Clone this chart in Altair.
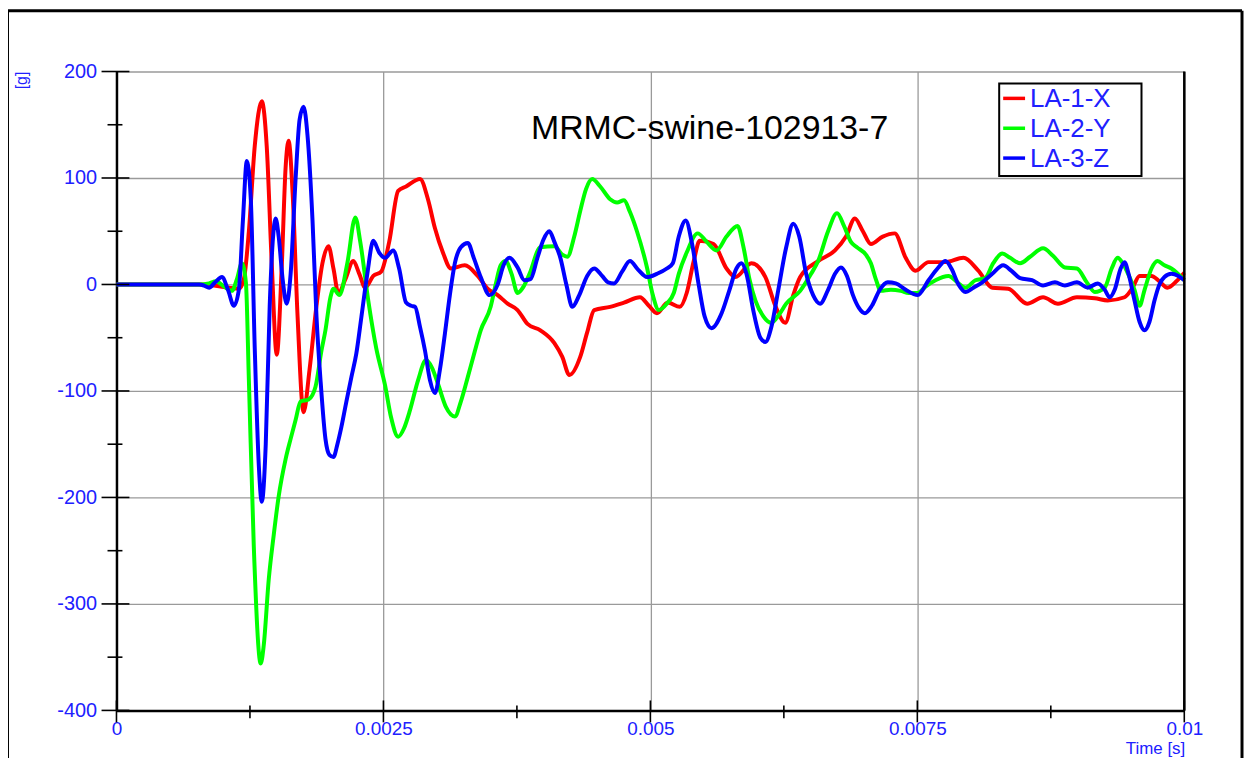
import altair as alt
import pandas as pd

SERIES = ["LA-1-X", "LA-2-Y", "LA-3-Z"]
COLORS = ["#ff0000", "#00ff00", "#0000ff"]
TITLE = "MRMC-swine-102913-7"

# (time in ms, acceleration in g)
RED = [(0, 0), (0.774, 0), (0.913, -1), (1.053, -3), (1.146, -4), (1.193, 5), (1.240, 50), (1.295, 130),
       (1.361, 172), (1.407, 130), (1.454, 20), (1.501, -66), (1.547, 15), (1.584, 110), (1.612, 135),
       (1.650, 85), (1.696, -30), (1.752, -120), (1.808, -80), (1.873, -20), (1.929, 20), (1.985, 36),
       (2.032, 15), (2.078, -8), (2.144, 5), (2.218, 22), (2.274, 10), (2.330, -3), (2.405, 8), (2.479, 12),
       (2.554, 40), (2.638, 88), (2.712, 92), (2.843, 99), (2.917, 80), (2.982, 53), (3.057, 30), (3.132, 15),
       (3.262, 18), (3.383, 8), (3.476, -4), (3.570, -10), (3.663, -18), (3.756, -24), (3.849, -37),
       (3.970, -43), (4.101, -55), (4.175, -68), (4.241, -85), (4.343, -68), (4.408, -45), (4.474, -24),
       (4.623, -21), (4.753, -17), (4.902, -12), (4.986, -20), (5.061, -27), (5.163, -17), (5.275, -21),
       (5.340, -8), (5.406, 22), (5.462, 41), (5.592, 38), (5.713, 15), (5.797, 7), (5.946, 20), (6.077, 7),
       (6.170, -20), (6.263, -36), (6.338, -10), (6.403, 7), (6.571, 22), (6.729, 32), (6.832, 45),
       (6.915, 62), (6.990, 50), (7.065, 38), (7.176, 45), (7.288, 48), (7.391, 25), (7.484, 13), (7.605, 21),
       (7.764, 21), (7.931, 25), (8.071, 13), (8.202, -3), (8.351, -4), (8.528, -18), (8.677, -12),
       (8.817, -18), (8.994, -12), (9.162, -13), (9.283, -15), (9.441, -12), (9.516, -3), (9.581, 8),
       (9.693, 8), (9.767, 3), (9.842, -3), (9.926, 3), (10.0, 11)]

GREEN = [(0, 0), (0.774, 0), (0.867, 1), (0.932, 3), (1.007, -2), (1.081, -6), (1.128, 5), (1.174, 20),
         (1.212, 2), (1.240, -90), (1.286, -246), (1.351, -356), (1.379, -339), (1.426, -277), (1.473, -235),
         (1.519, -199), (1.584, -164), (1.631, -145), (1.678, -127), (1.724, -110), (1.799, -108),
         (1.864, -96), (1.920, -62), (1.957, -43), (2.004, -12), (2.032, -4), (2.088, -10), (2.162, 20),
         (2.237, 63), (2.283, 40), (2.358, -15), (2.433, -60), (2.516, -95), (2.572, -125), (2.638, -143),
         (2.693, -135), (2.749, -118), (2.824, -90), (2.899, -71), (2.954, -78), (3.010, -93), (3.085, -115),
         (3.169, -124), (3.225, -110), (3.290, -87), (3.355, -63), (3.411, -43), (3.504, -21), (3.551, 0),
         (3.598, 18), (3.644, 22), (3.700, 10), (3.756, -8), (3.812, -2), (3.868, 10), (3.970, 35),
         (4.101, 36), (4.175, 28), (4.222, 26), (4.287, 45), (4.343, 69), (4.399, 90), (4.455, 99),
         (4.530, 92), (4.623, 80), (4.688, 77), (4.753, 79), (4.809, 68), (4.874, 50), (4.968, 16),
         (5.023, -10), (5.079, -24), (5.154, -18), (5.219, -8), (5.266, 10), (5.340, 30), (5.443, 48),
         (5.527, 40), (5.620, 32), (5.713, 45), (5.816, 55), (5.872, 35), (5.928, 5), (5.983, -15),
         (6.058, -30), (6.133, -36), (6.207, -28), (6.272, -18), (6.403, -6), (6.505, 10), (6.571, 22),
         (6.664, 50), (6.748, 67), (6.813, 55), (6.878, 40), (6.934, 35), (7.018, 28), (7.065, 20),
         (7.111, 5), (7.158, -6), (7.251, -5), (7.344, -6), (7.419, -8), (7.503, -8), (7.577, -2),
         (7.670, 4), (7.792, 8), (7.875, 2), (7.950, -3), (8.043, 4), (8.136, 6), (8.211, 20), (8.295, 29),
         (8.369, 25), (8.463, 20), (8.556, 26), (8.677, 34), (8.770, 27), (8.882, 16), (8.994, 15),
         (9.087, 2), (9.162, -7), (9.255, -3), (9.320, 15), (9.376, 25), (9.423, 20), (9.460, 13),
         (9.534, -5), (9.581, -20), (9.628, -5), (9.693, 15), (9.749, 22), (9.814, 18), (9.879, 15),
         (10.0, 4)]

BLUE = [(0, 0), (0.774, 0), (0.820, -1), (0.867, -3), (0.923, 2), (0.988, 7), (1.044, -5), (1.100, -20),
        (1.146, -5), (1.184, 60), (1.221, 116), (1.258, 80), (1.295, -60), (1.333, -170), (1.361, -204),
        (1.398, -150), (1.435, -20), (1.463, 40), (1.491, 62), (1.519, 45), (1.556, 5), (1.594, -18),
        (1.631, 10), (1.678, 100), (1.715, 155), (1.752, 167), (1.789, 140), (1.836, 60), (1.873, -30),
        (1.911, -90), (1.957, -145), (1.994, -160), (2.032, -162), (2.069, -150), (2.106, -134),
        (2.153, -110), (2.200, -87), (2.246, -65), (2.293, -31), (2.349, 10), (2.405, 41), (2.460, 30),
        (2.516, 25), (2.591, 32), (2.647, 15), (2.712, -17), (2.759, -20), (2.796, -21), (2.843, -40),
        (2.889, -62), (2.936, -90), (2.982, -102), (3.029, -80), (3.076, -46), (3.122, -10), (3.169, 20),
        (3.225, 35), (3.290, 39), (3.346, 25), (3.411, 7), (3.495, -10), (3.570, 0), (3.625, 18),
        (3.681, 25), (3.756, 16), (3.821, 4), (3.877, 5), (3.942, 25), (3.998, 42), (4.054, 50),
        (4.101, 40), (4.157, 25), (4.213, 0), (4.269, -21), (4.334, -10), (4.408, 8), (4.474, 15),
        (4.548, 8), (4.604, 2), (4.660, 1), (4.735, 12), (4.809, 22), (4.884, 14), (4.968, 7), (5.061, 10),
        (5.154, 15), (5.210, 20), (5.266, 45), (5.331, 60), (5.387, 40), (5.452, 0), (5.508, -30),
        (5.573, -41), (5.667, -27), (5.741, -5), (5.806, 15), (5.853, 20), (5.900, 10), (5.965, -25),
        (6.030, -50), (6.077, -54), (6.133, -40), (6.198, -5), (6.272, 35), (6.338, 57), (6.394, 45),
        (6.459, 10), (6.524, -10), (6.589, -18), (6.664, -5), (6.729, 10), (6.785, 16), (6.841, 8),
        (6.897, -10), (6.953, -22), (7.009, -27), (7.074, -20), (7.148, -5), (7.223, 2), (7.298, 1),
        (7.391, -5), (7.503, -10), (7.605, 4), (7.689, 15), (7.764, 22), (7.819, 15), (7.885, 0),
        (7.950, -7), (8.025, -3), (8.108, 2), (8.202, 10), (8.304, 18), (8.379, 13), (8.463, 6), (8.574, 4),
        (8.677, -1), (8.789, 2), (8.882, -1), (8.994, 2), (9.096, -3), (9.190, 1), (9.255, -5), (9.301, -12),
        (9.348, -5), (9.404, 15), (9.441, 21), (9.478, 10), (9.534, -15), (9.581, -35), (9.628, -43),
        (9.674, -35), (9.721, -15), (9.767, 0), (9.814, 7), (9.879, 10), (9.944, 8), (10.0, 4)]

X_MAJOR = [0, 0.0025, 0.005, 0.0075, 0.01]
X_MINOR = [0.00125, 0.00375, 0.00625, 0.00875]
Y_MAJOR = [-400, -300, -200, -100, 0, 100, 200]
Y_MINOR = [-350, -250, -150, -50, 50, 150]

rows = []
for name, pts in zip(SERIES, [RED, GREEN, BLUE]):
    for t_ms, g in pts:
        rows.append({"series": name, "t": t_ms / 1000.0, "g": g})
df = pd.DataFrame(rows)

W, H = 1073, 642
LABEL_BLUE = "#2020ff"
FONT = "Liberation Sans"

xscale = alt.Scale(domain=[0, 0.01], nice=False, zero=False)
yscale = alt.Scale(domain=[-400, 200], nice=False, zero=False)

x_axis = alt.Axis(values=X_MAJOR, labelExpr="toString(datum.value)", title=None, grid=True,
                  ticks=False, tickSize=0, labelPadding=9, labelFlush=False, labelOverlap=False,
                  labelColor=LABEL_BLUE, labelFontSize=19, labelFont=FONT,
                  domainColor="black", domainWidth=2.5, gridColor="#9a9a9a", gridWidth=1.3)
y_axis = alt.Axis(values=Y_MAJOR, labelExpr="toString(datum.value)", title=None, grid=True,
                  ticks=False, tickSize=0, labelPadding=20, labelFlush=False, labelOverlap=False,
                  labelColor=LABEL_BLUE, labelFontSize=20, labelFont=FONT,
                  domainColor="black", domainWidth=2.5, gridColor="#9a9a9a", gridWidth=1.3)

lines = alt.Chart(df).mark_line(strokeWidth=4, interpolate="monotone").encode(
    x=alt.X("t:Q", scale=xscale, axis=x_axis),
    y=alt.Y("g:Q", scale=yscale, axis=y_axis),
    color=alt.Color("series:N", scale=alt.Scale(domain=SERIES, range=COLORS), legend=None),
    detail="series:N",
)

one = pd.DataFrame({"a": [0]})

# crossing ticks (share the same scales and axis definitions)
xmaj = alt.Chart(pd.DataFrame({"v": X_MAJOR})).mark_rule(color="black", strokeWidth=1.6).encode(
    x=alt.X("v:Q", scale=xscale, axis=x_axis), y=alt.value(H - 10), y2=alt.value(H + 12))
xmin = alt.Chart(pd.DataFrame({"v": X_MINOR})).mark_rule(color="black", strokeWidth=1.6).encode(
    x=alt.X("v:Q", scale=xscale, axis=x_axis), y=alt.value(H - 5), y2=alt.value(H + 8))
ymaj = alt.Chart(pd.DataFrame({"v": Y_MAJOR})).mark_rule(color="black", strokeWidth=1.6).encode(
    y=alt.Y("v:Q", scale=yscale, axis=y_axis), x=alt.value(-15), x2=alt.value(13))
ymin = alt.Chart(pd.DataFrame({"v": Y_MINOR})).mark_rule(color="black", strokeWidth=1.6).encode(
    y=alt.Y("v:Q", scale=yscale, axis=y_axis), x=alt.value(-9), x2=alt.value(6))

# right plot border
right_border = alt.Chart(one).mark_rule(color="black", strokeWidth=2.5).encode(
    x=alt.value(W), y=alt.value(0), y2=alt.value(H))

# outer frame (three visible sides)
frame_left = alt.Chart(one).mark_rule(color="black", strokeWidth=3, clip=False).encode(
    x=alt.value(-109.5), y=alt.value(-61), y2=alt.value(H + 60))
frame_top = alt.Chart(one).mark_rule(color="black", strokeWidth=3, clip=False).encode(
    x=alt.value(-109.5), x2=alt.value(1131), y=alt.value(-61))
frame_right = alt.Chart(one).mark_rule(color="black", strokeWidth=3, clip=False).encode(
    x=alt.value(1131), y=alt.value(-61), y2=alt.value(H + 60))

title = alt.Chart(one).mark_text(fontSize=34, font=FONT, color="black", align="center",
                                 baseline="middle").encode(
    x=alt.value(596), y=alt.value(58), text=alt.value(TITLE))

ylabel = alt.Chart(one).mark_text(fontSize=16, font=FONT, color=LABEL_BLUE, angle=270,
                                  align="center", baseline="middle").encode(
    x=alt.value(-95), y=alt.value(9), text=alt.value("[g]"))

xlabel = alt.Chart(one).mark_text(fontSize=17, font=FONT, color=LABEL_BLUE, align="right",
                                  baseline="middle").encode(
    x=alt.value(W + 1), y=alt.value(681), text=alt.value("Time [s]"))

# legend box
leg_box = alt.Chart(one).mark_rect(fill="white", stroke="black", strokeWidth=2).encode(
    x=alt.value(887), x2=alt.value(1030), y=alt.value(12), y2=alt.value(105))
legend_layers = [leg_box]
for i, (name, col) in enumerate(zip(SERIES, COLORS)):
    yy = 27 + i * 30
    legend_layers.append(alt.Chart(one).mark_rule(color=col, strokeWidth=3.5).encode(
        x=alt.value(891), x2=alt.value(913), y=alt.value(yy)))
    legend_layers.append(alt.Chart(one).mark_text(fontSize=26, font=FONT, color=LABEL_BLUE,
                                                  align="left", baseline="middle").encode(
        x=alt.value(918), y=alt.value(yy + 1), text=alt.value(name)))

chart = alt.layer(
    lines, xmaj, xmin, ymaj, ymin, right_border, frame_left, frame_top, frame_right,
    title, ylabel, xlabel, *legend_layers
).properties(
    width=W, height=H,
    autosize=alt.AutoSizeParams(type="none"),
    padding={"left": 109, "top": 62, "right": 60, "bottom": 46},
    background="white",
).configure_view(stroke=None)

chart.save("out.html", embed_options={"renderer": "svg", "actions": False})
